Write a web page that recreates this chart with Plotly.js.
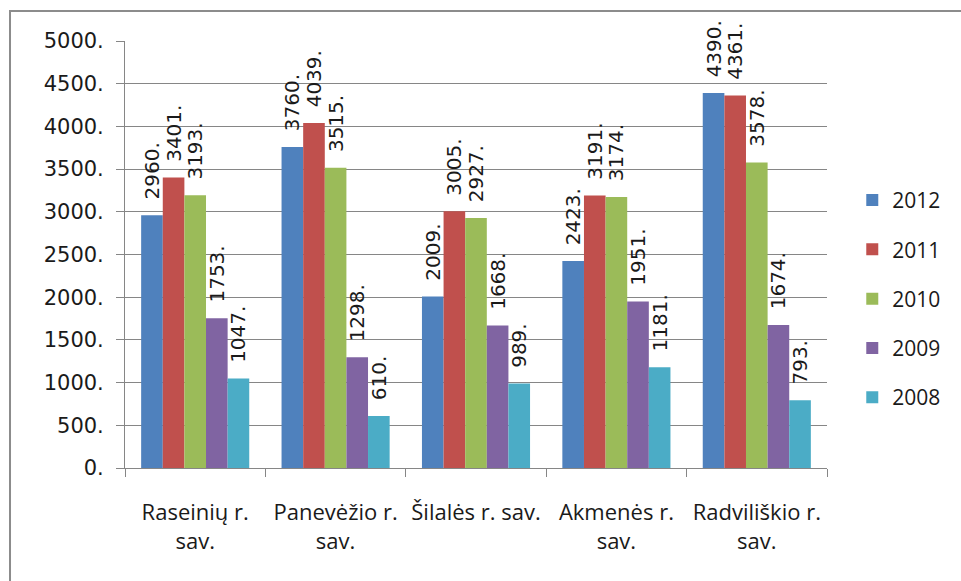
<!DOCTYPE html>
<html>
<head>
<meta charset="utf-8">
<script src="https://cdn.plot.ly/plotly-3.0.1.min.js"></script>
<style>html,body{margin:0;padding:0;background:#fff;}#chart{width:961px;height:581px;}</style>
</head>
<body>
<div id="chart"></div>
<script>
const categories = ["Raseinių r.<br>sav.", "Panevėžio r.<br>sav.", "Šilalės r. sav.", "Akmenės r.<br>sav.", "Radviliškio r.<br>sav."];
const seriesNames = ["2012", "2011", "2010", "2009", "2008"];
const v2012 = [2960, 3760, 2009, 2423, 4390];
const v2011 = [3401, 4039, 3005, 3191, 4361];
const v2010 = [3193, 3515, 2927, 3174, 3578];
const v2009 = [1753, 1298, 1668, 1951, 1674];
const v2008 = [1047, 610, 989, 1181, 793];
const colors = ["#4F81BD", "#C0504D", "#9BBB59", "#8064A2", "#4BACC6"];
const yTickVals = [0, 500, 1000, 1500, 2000, 2500, 3000, 3500, 4000, 4500, 5000];
const yTickText = ["0.", "500.", "1000.", "1500.", "2000.", "2500.", "3000.", "3500.", "4000.", "4500.", "5000."];

const seriesValues = [v2012, v2011, v2010, v2009, v2008];
const traces = seriesValues.map((vals, i) => ({
  type: "bar",
  name: seriesNames[i],
  legendgroup: seriesNames[i],
  x: categories,
  y: vals,
  marker: {color: colors[i]},
  texttemplate: "\u00a0\u00a0%{y}.",
  textposition: "outside",
  textangle: -90,
  constraintext: "none",
  cliponaxis: false,
  textfont: {family: "DejaVu Sans", size: 20, color: "#1a1a1a"},
  hoverinfo: "x+y"
}));

const layout = {
  width: 961, height: 581,
  margin: {l: 125, r: 134, t: 41, b: 113},
  paper_bgcolor: "#ffffff", plot_bgcolor: "#ffffff",
  barmode: "group", bargap: 0.23, bargroupgap: 0,
  showlegend: true,
  legend: {
    x: 1.036, y: 0.396, xanchor: "left", yanchor: "middle",
    font: {family: "Open Sans", size: 21, color: "#1a1a1a"},
    tracegroupgap: 19, traceorder: "grouped", bgcolor: "rgba(0,0,0,0)"
  },
  xaxis: {
    type: "category",
    showline: true, linecolor: "#868686", linewidth: 1,
    ticks: "outside", tickson: "boundaries", ticklen: 8, tickcolor: "#868686",
    ticklabelstandoff: 25,
    tickfont: {family: "Open Sans", size: 22, color: "#1a1a1a"},
    showgrid: false
  },
  yaxis: {
    range: [0, 5000],
    tickvals: yTickVals, ticktext: yTickText,
    showline: true, linecolor: "#868686", linewidth: 1,
    ticks: "outside", ticklen: 8, tickcolor: "#868686",
    showgrid: true, gridcolor: "#868686", gridwidth: 1,
    zeroline: false,
    tickfont: {family: "DejaVu Sans", size: 21, color: "#1a1a1a"},
    ticklabelstandoff: 8
  },
  shapes: [{
    type: "rect", xref: "paper", yref: "paper",
    x0: -0.1638, x1: 1.3, y0: 1.0703, y1: -0.5,
    line: {color: "#8c8c8c", width: 2}, fillcolor: "rgba(0,0,0,0)"
  }]
};

Plotly.newPlot("chart", traces, layout, {displayModeBar: false, staticPlot: true});
</script>
</body>
</html>
